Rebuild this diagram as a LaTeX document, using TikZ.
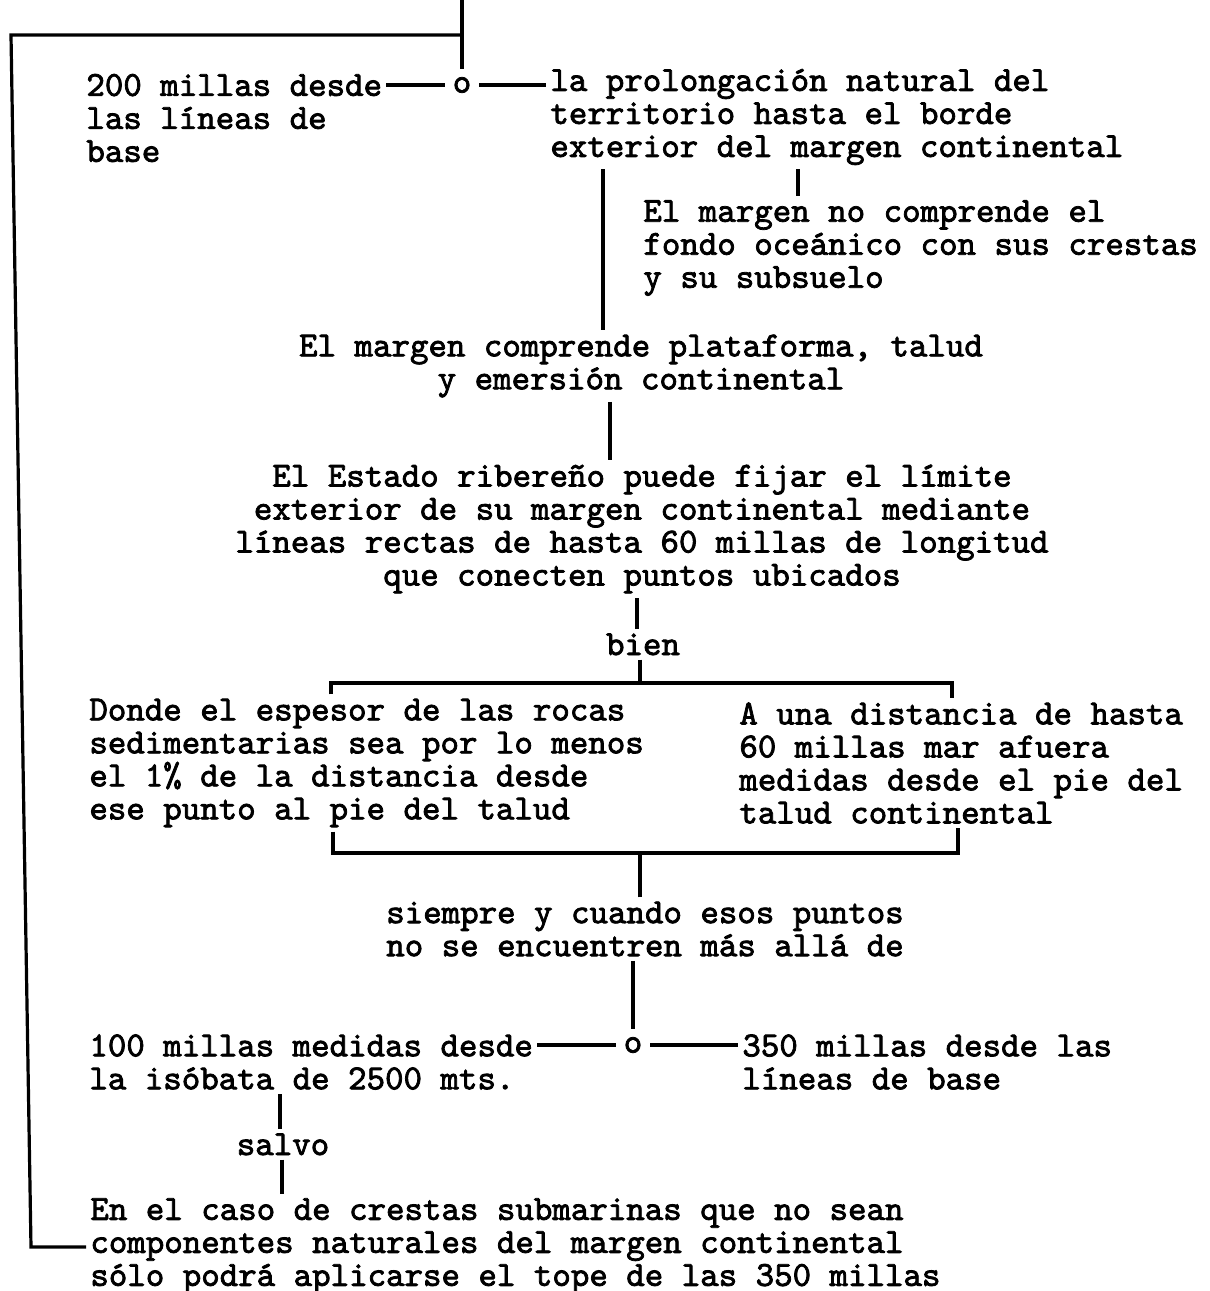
\documentclass[tikz,border=0pt]{standalone}
\usepackage{fontspec}
\newfontfamily\typewriter[FakeBold=2.2]{lmmono10-regular.otf}
\usepackage{tikz}
\usetikzlibrary{calc}

\begin{document}
\begin{tikzpicture}[x=0.5pt,y=-0.5pt,
		txt/.style={font=\typewriter\bfseries\fontsize{17.6}{16.5}\selectfont,inner sep=2pt},
		orr/.style={txt,inner sep=3.8pt},
		link/.style={line width=1.6pt}]
		\useasboundingbox (0,0) rectangle (1210,1291);
		
		% Upper alternative
		\node[txt,anchor=west,align=left] (m200) at (82,118) {200 millas desde\\las líneas de\\base};
		\node[orr] (or1) at (462,85) {o};
		\node[txt,anchor=west,align=left] (prolong) at (546,117)
		{la prolongación natural del\\territorio hasta el borde\\exterior del margen continental};
		\node[txt,anchor=west,align=left] (nocomp) at (639,248)
		{El margen no comprende el\\fondo oceánico con sus crestas\\y su subsuelo};
		
		% Middle column
		\node[txt,align=center] (comp) at (641,366)
		{El margen comprende plataforma, talud\\y emersión continental};
		\node[txt,align=center] (estado) at (642,529)
		{El Estado ribereño puede fijar el límite\\exterior de su margen continental mediante\\líneas rectas de hasta 60 millas de longitud\\que conecten puntos ubicados};
		\node[txt,anchor=base] (bien) at (643,655) {bien};
		\node[txt,anchor=west,align=left] (donde) at (85,763)
		{Donde el espesor de las rocas\\sedimentarias sea por lo menos\\el 1\% de la distancia desde\\ese punto al pie del talud};
		\node[txt,anchor=west,align=left] (auna) at (735,763)
		{A una distancia de hasta\\60 millas mar afuera\\medidas desde el pie del\\talud continental};
		\node[txt,align=center] (siempre) at (645,929)
		{siempre y cuando esos puntos\\no se encuentren más allá de};
		
		% Lower alternative
		\node[txt,anchor=west,align=left] (m100) at (85,1062) {100 millas medidas desde\\la isóbata de 2500 mts.};
		\node[orr] (or2) at (633,1045) {o};
		\node[txt,anchor=west,align=left] (m350) at (738,1062) {350 millas desde las\\líneas de base};
		\node[txt,anchor=base] (salvo) at (283,1155) {salvo};
		\node[txt,anchor=west,align=left] (caso) at (86,1246)
		{En el caso de crestas submarinas que no sean\\componentes naturales del margen continental\\sólo podrá aplicarse el tope de las 350 millas};
		
		% Frame and bracket corners
		\coordinate (top) at (462,0);
		\coordinate (junc) at (462,35);
		\coordinate (ftl) at (11,35);
		\coordinate (fbl) at (31,1247);
		\coordinate (b1l) at (331,683);
		\coordinate (b1r) at (952,683);
		\coordinate (b2l) at (333,853);
		\coordinate (b2r) at (958,853);
		
		% Dashes on both sides of each "o"
		\foreach \o/\l/\r in {or1/m200/prolong, or2/m100/m350} {
			\draw[link] (\o) -- (\o -| \l.east);
			\draw[link] (\o) -- (\o -| \r.west);
		}
		
		\draw[link] (top) -- (or1);
		\draw[link] (junc) -- (ftl) -- (fbl) -- (fbl -| caso.west);
		
		% Vertical links
		\draw[link] (prolong.south west) ++(57,0) coordinate (v1) -- (v1 |- comp.north);
		\draw[link] (nocomp.north west) ++(159,0) coordinate (v2) -- (v2 |- prolong.south);
		\draw[link] (comp.south) ++(-31,0) coordinate (v3) -- (v3 |- estado.north);
		\draw[link] (bien.north) ++(-6,0) coordinate (v4) -- (v4 |- estado.south);
		\draw[link] (bien.south) ++(-3,0) coordinate (v5) -- (v5 |- b1l);
		\draw[link] (siempre.north) ++(-5,0) coordinate (v6) -- (v6 |- b2l);
		\draw[link] (siempre.south -| or2) -- (or2);
		\draw[link] (salvo.north) ++(-3,0) coordinate (v8) -- (v8 |- m100.south);
		\draw[link] (salvo.south) ++(-1,0) coordinate (v9) -- (v9 |- caso.north);
		
		% Brackets
		\draw[link] (donde.north -| b1l) -- (b1l) -- (b1r) -- (auna.north -| b1r);
		\draw[link] (donde.south -| b2l) -- (b2l) -- (b2r) -- (auna.south -| b2r);
	\end{tikzpicture}
\end{document}
